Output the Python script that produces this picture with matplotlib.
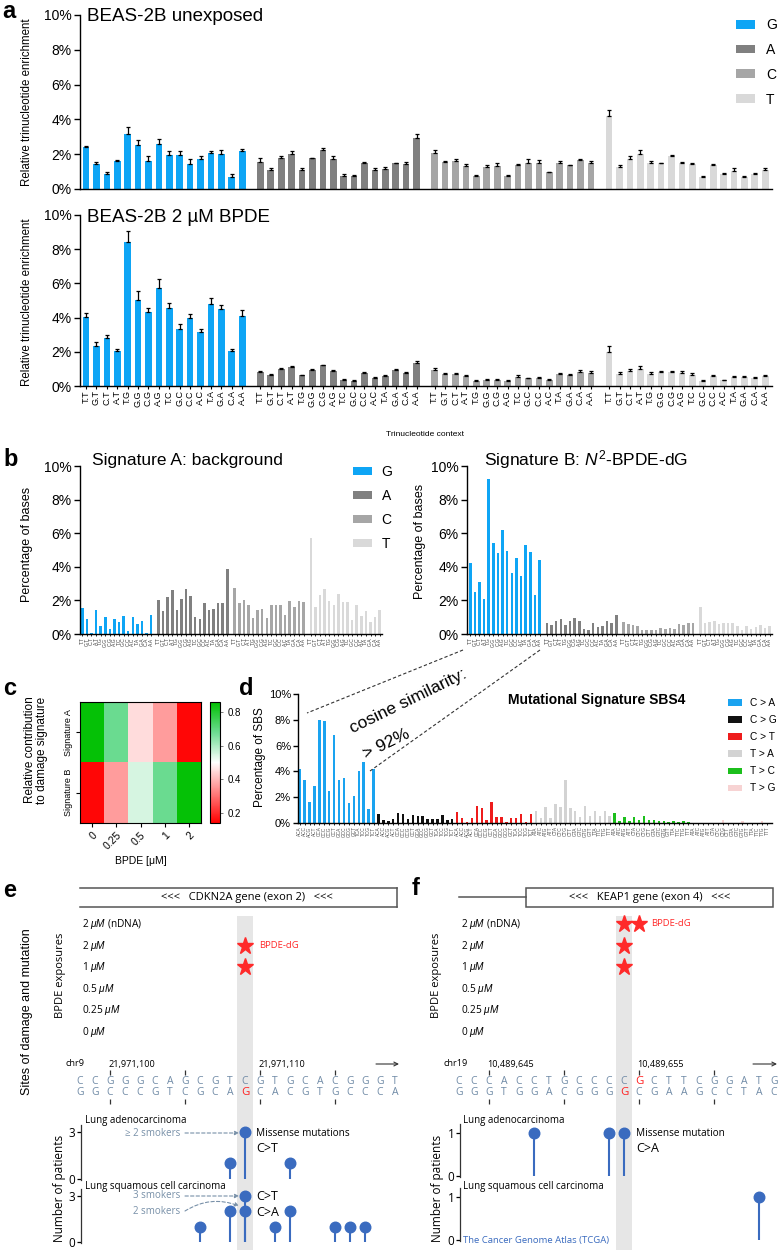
import matplotlib
matplotlib.use('Agg')
import matplotlib.pyplot as plt
import numpy as np
from matplotlib.colors import LinearSegmentedColormap
from matplotlib.patches import Rectangle

plt.rcParams['font.family'] = ['Liberation Sans', 'DejaVu Sans']
plt.rcParams['mathtext.fontset'] = 'custom'
plt.rcParams['mathtext.rm'] = 'Liberation Sans'
plt.rcParams['mathtext.it'] = 'Liberation Sans:italic'
plt.rcParams['axes.linewidth'] = 1.0

# ---------------- data ----------------
bases = ['G', 'A', 'C', 'T']
base_colors = ['#0ea5f5', '#808080', '#a6a6a6', '#d9d9d9']
contexts = ['T.T', 'G.T', 'C.T', 'A.T', 'T.G', 'G.G', 'C.G', 'A.G',
            'T.C', 'G.C', 'C.C', 'A.C', 'T.A', 'G.A', 'C.A', 'A.A']

unexp_G = [2.43, 1.46, 0.86, 1.63, 3.14, 2.51, 1.59, 2.6, 1.97, 1.95, 1.42, 1.72, 2.05, 1.99, 0.69, 2.16]
unexp_A = [1.57, 1.09, 1.78, 2.01, 1.11, 1.76, 2.26, 1.72, 0.77, 0.77, 1.51, 1.09, 1.15, 1.47, 1.44, 2.95]
unexp_C = [2.05, 1.53, 1.63, 1.32, 0.75, 1.25, 1.34, 0.77, 1.4, 1.51, 1.49, 0.96, 1.51, 1.36, 1.67, 1.49]
unexp_T = [4.2, 1.28, 1.7, 2.0, 1.47, 1.47, 1.9, 1.47, 1.44, 0.71, 1.38, 0.84, 1.03, 0.67, 0.84, 1.09]
unexp_G_err = [0.06, 0.08, 0.13, 0.06, 0.4, 0.33, 0.33, 0.29, 0.21, 0.23, 0.33, 0.15, 0.15, 0.23, 0.15, 0.15]
unexp_A_err = [0.19, 0.1, 0.13, 0.19, 0.11, 0.04, 0.08, 0.17, 0.08, 0.04, 0.04, 0.1, 0.13, 0.04, 0.1, 0.19]
unexp_C_err = [0.19, 0.08, 0.08, 0.11, 0.04, 0.15, 0.15, 0.04, 0.06, 0.19, 0.17, 0.04, 0.08, 0.04, 0.04, 0.1]
unexp_T_err = [0.33, 0.11, 0.19, 0.25, 0.13, 0.02, 0.06, 0.08, 0.06, 0.04, 0.06, 0.08, 0.15, 0.06, 0.08, 0.13]

bpde_G = [4.04, 2.36, 2.81, 2.03, 8.42, 5.02, 4.3, 5.74, 4.59, 3.36, 3.98, 3.18, 4.82, 4.49, 2.03, 4.12]
bpde_A = [0.82, 0.62, 0.98, 1.11, 0.62, 0.96, 1.21, 0.88, 0.37, 0.31, 0.78, 0.49, 0.59, 0.92, 0.76, 1.37]
bpde_C = [0.92, 0.7, 0.68, 0.59, 0.27, 0.35, 0.37, 0.31, 0.55, 0.45, 0.49, 0.35, 0.7, 0.66, 0.82, 0.76]
bpde_T = [1.97, 0.72, 0.86, 0.98, 0.72, 0.8, 0.8, 0.76, 0.62, 0.31, 0.59, 0.33, 0.53, 0.53, 0.49, 0.57]
bpde_G_err = [0.2, 0.23, 0.16, 0.12, 0.66, 0.55, 0.27, 0.53, 0.25, 0.29, 0.21, 0.18, 0.35, 0.25, 0.14, 0.31]
bpde_A_err = [0.06, 0.06, 0.06, 0.08, 0.04, 0.06, 0.04, 0.06, 0.02, 0.02, 0.06, 0.06, 0.03, 0.1, 0.08, 0.12]
bpde_C_err = [0.12, 0.08, 0.08, 0.08, 0.06, 0.06, 0.06, 0.04, 0.1, 0.04, 0.06, 0.06, 0.08, 0.06, 0.1, 0.1]
bpde_T_err = [0.35, 0.1, 0.14, 0.2, 0.1, 0.08, 0.1, 0.1, 0.12, 0.04, 0.08, 0.04, 0.08, 0.06, 0.06, 0.08]

sigA_G = [1.56, 0.9, 0.04, 1.4, 0.48, 1.04, 0.28, 0.9, 0.7, 1.1, 0.18, 1.0, 0.62, 0.75, 0.04, 1.15]
sigA_A = [2.04, 1.34, 2.2, 2.6, 1.44, 2.1, 2.7, 2.24, 1.0, 0.9, 1.84, 1.42, 1.46, 1.84, 1.82, 3.87]
sigA_C = [2.74, 1.86, 2.04, 1.74, 0.96, 1.42, 1.46, 0.96, 1.74, 1.74, 1.7, 1.16, 1.94, 1.6, 1.94, 1.9]
sigA_T = [5.7, 1.6, 2.3, 2.66, 1.96, 1.7, 2.36, 1.92, 1.92, 0.86, 1.74, 1.1, 1.36, 0.72, 1.04, 1.44]

sigB_G = [4.22, 2.5, 3.08, 2.07, 9.25, 5.4, 4.85, 6.19, 4.97, 3.61, 4.54, 3.43, 5.27, 4.91, 2.31, 4.4]
sigB_A = [0.65, 0.52, 0.8, 0.9, 0.52, 0.8, 0.98, 0.75, 0.31, 0.25, 0.65, 0.4, 0.48, 0.8, 0.63, 1.13]
sigB_C = [0.73, 0.58, 0.52, 0.48, 0.21, 0.23, 0.23, 0.21, 0.38, 0.31, 0.33, 0.27, 0.58, 0.56, 0.65, 0.65]
sigB_T = [1.62, 0.65, 0.71, 0.8, 0.62, 0.67, 0.67, 0.67, 0.48, 0.23, 0.46, 0.27, 0.42, 0.52, 0.38, 0.48]

heat_doses = ['0', '0.25', '0.5', '1', '2']
heat_rows = ['Signature A', 'Signature B']
heat_A = [0.85, 0.68, 0.45, 0.36, 0.15]
heat_B = [0.15, 0.36, 0.55, 0.68, 0.85]

sbs_groups = ['C > A', 'C > G', 'C > T', 'T > A', 'T > C', 'T > G']
sbs_colors = ['#1aa3f0', '#111111', '#ee1c1c', '#d3d3d3', '#1cbf1c', '#f7d3d3']
sbs4_CA = [4.2, 3.3, 1.6, 2.9, 8.0, 7.9, 2.45, 6.85, 3.3, 3.5, 1.55, 2.1, 4.0, 4.7, 1.1, 4.2]
sbs4_CG = [0.72, 0.27, 0.13, 0.32, 0.75, 0.69, 0.32, 0.59, 0.53, 0.56, 0.29, 0.29, 0.32, 0.59, 0.21, 0.32]
sbs4_CT = [0.88, 0.37, 0.05, 0.4, 1.28, 1.15, 0.27, 1.63, 0.43, 0.43, 0.05, 0.35, 0.35, 0.69, 0.05, 0.72]
sbs4_TA = [0.9, 0.35, 1.25, 0.37, 1.44, 1.25, 3.33, 1.15, 0.9, 0.45, 1.33, 0.56, 0.9, 0.53, 0.96, 0.53]
sbs4_TC = [0.8, 0.16, 0.48, 0.13, 0.5, 0.21, 0.53, 0.27, 0.24, 0.13, 0.16, 0.08, 0.19, 0.05, 0.13, 0.05]
sbs4_TG = [0.02, 0.02, 0.02, 0.02, 0.02, 0.02, 0.2, 0.02, 0.02, 0.02, 0.15, 0.02, 0.02, 0.02, 0.12, 0.02]
ctxC = [a + 'C' + b for a in 'ACGT' for b in 'ACGT']
ctxT = [a + 'T' + b for a in 'ACGT' for b in 'ACGT']

exposure_labels = ['2 $\\mathit{μM}$ (nDNA)', '2 $\\mathit{μM}$', '1 $\\mathit{μM}$',
                   '0.5 $\\mathit{μM}$', '0.25 $\\mathit{μM}$', '0 $\\mathit{μM}$']
e_top = 'CCGGGCAGCGTCGTGCACGGGT'
e_bot = 'GGCCCGTCGCAGCACGTGCCCA'
e_red_top, e_red_bot = None, 11
e_ticks = [2, 7, 12, 17]
e_tick_labels = {2: '21,971,100', 12: '21,971,110'}
e_damage_rows = [1, 2]
e_damage_pos = [11, 11]
e_adeno_pos = [10, 11, 14]
e_adeno_n = [1, 3, 1]
e_squam_pos = [8, 10, 11, 11, 13, 14, 17, 18, 19]
e_squam_n = [1, 2, 3, 2, 1, 2, 1, 1, 1]

f_top = 'CCCACCTGCCCCGCTTCGGATG'
f_bot = 'GGGTGGACGGGGCGAAGCCTAC'
f_red_top, f_red_bot = 12, 11
f_ticks = [2, 7, 12, 17]
f_tick_labels = {2: '10,489,645', 12: '10,489,655'}
f_damage_rows = [0, 0, 1, 2]
f_damage_pos = [11, 12, 11, 11]
f_adeno_pos = [5, 10, 11]
f_adeno_n = [1, 1, 1]
f_squam_pos = [20]
f_squam_n = [1]

# ---------------- figure ----------------
W, H = 780, 1250
fig = plt.figure(figsize=(7.8, 12.5), dpi=100)


def rect(x0, y0, x1, y1):
    return [x0 / W, 1 - y1 / H, (x1 - x0) / W, (y1 - y0) / H]


def pct_axis(ax, labelsize=10, ticklen=4.5):
    for s in ['top', 'right']:
        ax.spines[s].set_visible(False)
    ax.set_ylim(0, 10)
    ax.set_yticks(range(0, 11, 2))
    ax.set_yticklabels([f'{v}%' for v in range(0, 11, 2)])
    ax.tick_params(axis='y', length=ticklen, width=1, labelsize=labelsize, pad=1.5)


def grouped_bars(ax, series, errs, gap, width):
    handles = []
    ticks = []
    for g, vals in enumerate(series):
        x = g * (16 + gap) + np.arange(16)
        ticks.extend(x)
        h = ax.bar(x, vals, width=width, color=base_colors[g], label=bases[g], zorder=2)
        if errs is not None:
            ax.errorbar(x, vals, yerr=[np.zeros(16), errs[g]], fmt='none', ecolor='k',
                        elinewidth=0.9, capsize=1.6, capthick=0.9, zorder=3)
        handles.append(h)
    return handles, ticks


OPEN = ['Open Sans', 'DejaVu Sans']

# ---- panel a ----
gapA = 0.75
axa1 = fig.add_axes(rect(80, 15, 772, 189))
hA, ticksA = grouped_bars(axa1, [unexp_G, unexp_A, unexp_C, unexp_T],
                          [unexp_G_err, unexp_A_err, unexp_C_err, unexp_T_err], gapA, 0.64)
pct_axis(axa1)
axa1.set_xlim(-0.58, 65.9)
axa1.set_xticks([])

axa2 = fig.add_axes(rect(80, 215, 772, 386))
grouped_bars(axa2, [bpde_G, bpde_A, bpde_C, bpde_T],
             [bpde_G_err, bpde_A_err, bpde_C_err, bpde_T_err], gapA, 0.64)
pct_axis(axa2)
axa2.set_xlim(-0.58, 65.9)
axa2.set_xticks(ticksA)
axa2.set_xticklabels(contexts * 4, rotation=90, fontsize=6.5)
axa2.tick_params(axis='x', length=2, width=0.8, pad=1)

fig.legend(handles=hA, labels=bases, loc='upper left', bbox_to_anchor=(736 / W, 1 - 18 / H),
           frameon=False, fontsize=10, handlelength=1.4, handleheight=0.6,
           labelspacing=0.78, handletextpad=0.75, borderpad=0, borderaxespad=0)

# ---- panel b ----
gapB = 0.6
axb1 = fig.add_axes(rect(80, 466, 382, 634))
hB, ticksB = grouped_bars(axb1, [sigA_G, sigA_A, sigA_C, sigA_T], None, gapB, 0.55)
pct_axis(axb1)
axb1.set_xlim(-0.5, 65.3)
axb1.set_xticks(ticksB)
axb1.set_xticklabels(contexts * 4, rotation=90, fontsize=3.6, color='#444')
axb1.tick_params(axis='x', length=1.5, width=0.6, pad=1)

axb2 = fig.add_axes(rect(467, 466, 772, 634))
grouped_bars(axb2, [sigB_G, sigB_A, sigB_C, sigB_T], None, gapB, 0.55)
pct_axis(axb2)
axb2.set_xlim(-0.7, 65.3)
axb2.set_xticks(ticksB)
axb2.set_xticklabels(contexts * 4, rotation=90, fontsize=3.6, color='#444')
axb2.tick_params(axis='x', length=1.5, width=0.6, pad=1)

fig.legend(handles=hB, labels=bases, loc='upper left', bbox_to_anchor=(353 / W, 1 - 465 / H),
           frameon=False, fontsize=10, handlelength=1.35, handleheight=0.55,
           labelspacing=0.72, handletextpad=0.7, borderpad=0, borderaxespad=0)

# ---- panel c ----
cmap = LinearSegmentedColormap.from_list(
    'rwg', [(0, '#ff0000'), (0.5, '#ffffff'), (0.75, '#6cdc92'), (1, '#00c000')])
axc = fig.add_axes(rect(80, 702, 201, 823))
im = axc.imshow(np.array([heat_A, heat_B]), cmap=cmap, vmin=0.14, vmax=0.86, aspect='auto')
axc.set_xticks(range(len(heat_doses)))
axc.set_xticklabels(heat_doses, rotation=45, ha='right', rotation_mode='anchor', fontsize=7.5)
axc.set_yticks([0, 1])
axc.set_yticklabels(heat_rows, rotation=90, va='center', fontsize=6.5)
axc.tick_params(length=3, width=0.8, pad=2)
for s in axc.spines.values():
    s.set_linewidth(0.8)
axc.set_xlabel('BPDE [μM]', fontsize=7.5, labelpad=3)
cax = fig.add_axes(rect(210, 702, 220, 823))
cb = fig.colorbar(im, cax=cax, ticks=[0.2, 0.4, 0.6, 0.8])
cb.ax.tick_params(labelsize=7, length=2, width=0.6, color='#666')
cb.outline.set_linewidth(0.8)

# ---- panel d ----
axd = fig.add_axes(rect(298, 694, 772, 823))
sbs_series = [sbs4_CA, sbs4_CG, sbs4_CT, sbs4_TA, sbs4_TC, sbs4_TG]
hD = []
for g, vals in enumerate(sbs_series):
    x = g * 16 + np.arange(16)
    hD.append(axd.bar(x, vals, width=0.5, color=sbs_colors[g], label=sbs_groups[g]))
pct_axis(axd, labelsize=8, ticklen=3.5)
axd.set_xlim(-0.35, 96.0)
axd.set_xticks(range(96))
axd.set_xticklabels(ctxC * 3 + ctxT * 3, rotation=90, fontsize=3.4, color='#555')
axd.tick_params(axis='x', length=1.5, width=0.6, pad=1)
fig.legend(handles=hD, labels=sbs_groups, loc='upper left', bbox_to_anchor=(728 / W, 1 - 698 / H),
           frameon=False, fontsize=7.3, handlelength=1.4, handleheight=0.6,
           labelspacing=0.7, handletextpad=0.8, borderpad=0, borderaxespad=0)

# ---- overlay (labels, connectors) ----
ov = fig.add_axes([0, 0, 1, 1], zorder=20)
ov.set_xlim(0, W)
ov.set_ylim(H, 0)
ov.axis('off')
ov.patch.set_alpha(0)

for lab, x, y in [('a', 2, 17.5), ('b', 3, 466), ('c', 3, 695), ('d', 239, 695),
                  ('e', 3, 897), ('f', 412, 895)]:
    ov.text(x, y, lab, fontsize=17, fontweight='bold', va='baseline', ha='left')

ov.text(87, 21, 'BEAS-2B unexposed', fontsize=13.5, va='baseline')
ov.text(87, 222, 'BEAS-2B 2 µM BPDE', fontsize=13.5, va='baseline')
ov.text(27, 102, 'Relative trinucleotide enrichment', rotation=90, fontsize=8.3, ha='center', va='center')
ov.text(27, 302, 'Relative trinucleotide enrichment', rotation=90, fontsize=8.3, ha='center', va='center')
ov.text(425, 434, 'Trinucleotide context', fontsize=6, ha='center', va='center')

ov.text(92, 465, 'Signature A: background', fontsize=12.5, va='baseline')
ov.text(484, 465, 'Signature B: $N^2$-BPDE-dG', fontsize=12.5, va='baseline')
ov.text(27, 544, 'Percentage of bases', rotation=90, fontsize=9, ha='center', va='center')
ov.text(420, 541, 'Percentage of bases', rotation=90, fontsize=9, ha='center', va='center')

ov.text(36, 750, 'Relative contribution\nto damage signature', rotation=90, fontsize=8.5,
        ha='center', va='center', linespacing=1.1)
ov.text(260, 757, 'Percentage of SBS', rotation=90, fontsize=8.5, ha='center', va='center')
ov.text(508, 704, 'Mutational Signature SBS4', fontsize=10, fontweight='bold', va='baseline')

ov.plot([463, 307], [650, 713], ls=(0, (3, 2)), color='#333', lw=0.8)
ov.plot([540, 370], [650, 771], ls=(0, (3, 2)), color='#333', lw=0.8)
ov.text(408, 701, 'cosine similarity:', rotation=26, fontsize=12.5, ha='center', va='center',
        rotation_mode='anchor')
ov.text(386, 744, '> 92%', rotation=26, fontsize=12.5, ha='center', va='center', rotation_mode='anchor')

# ---- panels e / f ----
lol = '#3a6bbf'
slate = '#6f8aa6'
seq_red = '#ff1f1f'
row_y0, row_dy = 924, 21.6

# gene models
ov.plot([80, 397], [888, 888], color='#555', lw=1.1)
ov.plot([80, 397], [907, 907], color='#555', lw=1.1)
ov.plot([397, 397], [888, 907], color='#555', lw=1.1)
ov.text(247, 897.5, '<<<   CDKN2A gene (exon 2)   <<<', fontsize=8, ha='center', va='center', family=OPEN)
ov.plot([459, 526], [897, 897], color='#555', lw=1.1)
ov.add_patch(Rectangle((526, 888), 247, 19, fill=False, lw=1.1, ec='#555'))
ov.text(650, 897.5, '<<<   KEAP1 gene (exon 4)   <<<', fontsize=8, ha='center', va='center', family=OPEN)

ov.text(27, 1012, 'Sites of damage and mutation', rotation=90, fontsize=9, ha='center', va='center')
ov.text(60, 975, 'BPDE exposures', rotation=90, fontsize=8, ha='center', va='center', family=OPEN)
ov.text(437, 975, 'BPDE exposures', rotation=90, fontsize=8, ha='center', va='center', family=OPEN)
ov.text(60, 1188, 'Number of patients', rotation=90, fontsize=8.5, ha='center', va='center', family=OPEN)
ov.text(437, 1188, 'Number of patients', rotation=90, fontsize=8.5, ha='center', va='center', family=OPEN)


def track(x0px, x1px, first_px, top, bot, red_top, red_bot, ticks, tick_labels, chrom, chrom_px,
          arrow_px, dmg_rows, dmg_pos, dmg_label_px, dmg_label_row):
    ax = fig.add_axes(rect(x0px, 860, x1px, 1250), zorder=1)
    ax.set_xlim((x0px - first_px) / 15, (x1px - first_px) / 15)
    ax.set_ylim(1250, 860)
    ax.axis('off')
    ax.patch.set_alpha(0)
    idx = lambda px: (px - first_px) / 15
    ax.add_patch(Rectangle((10.47, 916), 1.06, 334, color='#e6e6e6', lw=0, zorder=0))
    for r, lab in enumerate(exposure_labels):
        ax.text(idx(first_px + 2), row_y0 + r * row_dy, lab, fontsize=7.3, va='center', ha='left',
                family=OPEN)
    ax.plot(dmg_pos, [row_y0 + r * row_dy for r in dmg_rows], ls='none', marker='*',
            ms=12.5, color='#ff2a2a', mec='#ff2a2a', zorder=3)
    ax.text(idx(dmg_label_px), row_y0 + dmg_label_row * row_dy, 'BPDE-dG', fontsize=6.8,
            color='#ff2a2a', va='center', family=OPEN)
    for k, ch in enumerate(top):
        red = (k == red_top)
        ax.text(k, 1081.5, ch, ha='center', va='center', fontsize=8.2 if red else 7.5,
                color=seq_red if red else slate, family=OPEN)
    for k, ch in enumerate(bot):
        red = (k == red_bot)
        ax.text(k, 1092.5, ch, ha='center', va='center', fontsize=8.2 if red else 7.5,
                color=seq_red if red else slate, family=OPEN)
    ax.vlines(ticks, 1070, 1074.5, color='#333', lw=0.9)
    ax.vlines(ticks, 1099, 1103.5, color='#333', lw=0.9)
    for t, lab in tick_labels.items():
        ax.text(t - 0.1, 1064, lab, fontsize=6.6, ha='left', va='center', family=OPEN)
    ax.text(idx(chrom_px), 1064, chrom, fontsize=6.6, ha='left', va='center', family=OPEN)
    ax.annotate('', xy=(idx(arrow_px[1]), 1064), xytext=(idx(arrow_px[0]), 1064),
                arrowprops=dict(arrowstyle='->', lw=0.8, color='#333', shrinkA=0, shrinkB=0,
                                mutation_scale=7))
    return ax


track(60, 400, 80, e_top, e_bot, e_red_top, e_red_bot, e_ticks, e_tick_labels, 'chr9', 65,
      (376, 399), e_damage_rows, e_damage_pos, 259, 1)
track(440, 780, 459, f_top, f_bot, f_red_top, f_red_bot, f_ticks, f_tick_labels, 'chr19', 443,
      (753, 777), f_damage_rows, f_damage_pos, 651, 0)


def lollipop(x0px, first_px, y_top_px, y_bot_px, ymax, y_max_px, y0_px, pos, n, spine_top):
    right_px = 780 if first_px > 400 else 400
    ax = fig.add_axes(rect(x0px, y_top_px, right_px, y_bot_px), zorder=2)
    ax.patch.set_alpha(0)
    scale = (y0_px - y_max_px) / ymax
    ax.set_ylim(-(y_bot_px - y0_px) / scale, ymax + (y_max_px - y_top_px) / scale)
    ax.set_xlim((x0px - first_px) / 15, (right_px - first_px) / 15)
    ax.vlines(pos, 0, n, color=lol, lw=1.5, zorder=2)
    ax.plot(pos, n, ls='none', marker='o', ms=7.6, color=lol, clip_on=False, zorder=3)
    for s in ['top', 'right', 'bottom']:
        ax.spines[s].set_visible(False)
    ax.spines['left'].set_bounds(-0.03 * ymax, spine_top)
    ax.spines['left'].set_color('#333')
    ax.spines['left'].set_linewidth(0.9)
    ax.set_xticks([])
    ax.set_yticks([0, ymax])
    ax.set_yticklabels(['0', str(ymax)], family=OPEN)
    ax.tick_params(axis='y', length=3, width=0.9, labelsize=8.5, pad=1)
    return ax


lollipop(81, 80, 1122, 1181, 3, 1132, 1179, e_adeno_pos, e_adeno_n, 3.45)
lollipop(81, 80, 1186, 1244, 3, 1196, 1242, e_squam_pos, e_squam_n, 3.45)
lollipop(460, 459, 1122, 1178, 1, 1133, 1176, f_adeno_pos, f_adeno_n, 1.2)
lollipop(460, 459, 1186, 1243, 1, 1197, 1240, f_squam_pos, f_squam_n, 1.2)

ov.text(85, 1120, 'Lung adenocarcinoma', fontsize=7, va='center', family=OPEN)
ov.text(85, 1186, 'Lung squamous cell carcinoma', fontsize=7, va='center', family=OPEN)
ov.text(463, 1120, 'Lung adenocarcinoma', fontsize=7, va='center', family=OPEN)
ov.text(463, 1186, 'Lung squamous cell carcinoma', fontsize=7, va='center', family=OPEN)
ov.text(463, 1240, 'The Cancer Genome Atlas (TCGA)', fontsize=6.8, va='center', color='#3a6bbf',
        family=OPEN)

ov.text(256, 1133, 'Missense mutations', fontsize=7.2, va='center', family=OPEN)
ov.text(256, 1148, 'C>T', fontsize=9, va='center', family=OPEN)
ov.text(256, 1196, 'C>T', fontsize=9, va='center', family=OPEN)
ov.text(256, 1212, 'C>A', fontsize=9, va='center', family=OPEN)
ov.text(636, 1133, 'Missense mutation', fontsize=7.2, va='center', family=OPEN)
ov.text(636, 1148, 'C>A', fontsize=9, va='center', family=OPEN)

smk = '#7890a8'
ov.text(180, 1133, '≥ 2 smokers', fontsize=7, va='center', ha='right', color=smk, family=OPEN)
ov.text(180, 1196, '3 smokers', fontsize=7, va='center', ha='right', color=smk, family=OPEN)
ov.text(180, 1211, '2 smokers', fontsize=7, va='center', ha='right', color=smk, family=OPEN)
for (xa, ya), (xb, yb), rad in [((185, 1133), (239, 1133), 0), ((185, 1196), (239, 1196), 0),
                                ((185, 1211), (239, 1206), -0.25)]:
    ov.annotate('', xy=(xb, yb), xytext=(xa, ya),
                arrowprops=dict(arrowstyle='-|>', ls=(0, (3, 2)), lw=0.8, color=smk,
                                mutation_scale=6, shrinkA=0, shrinkB=0,
                                connectionstyle=f'arc3,rad={rad}'))

fig.savefig('out.png', dpi=100)
